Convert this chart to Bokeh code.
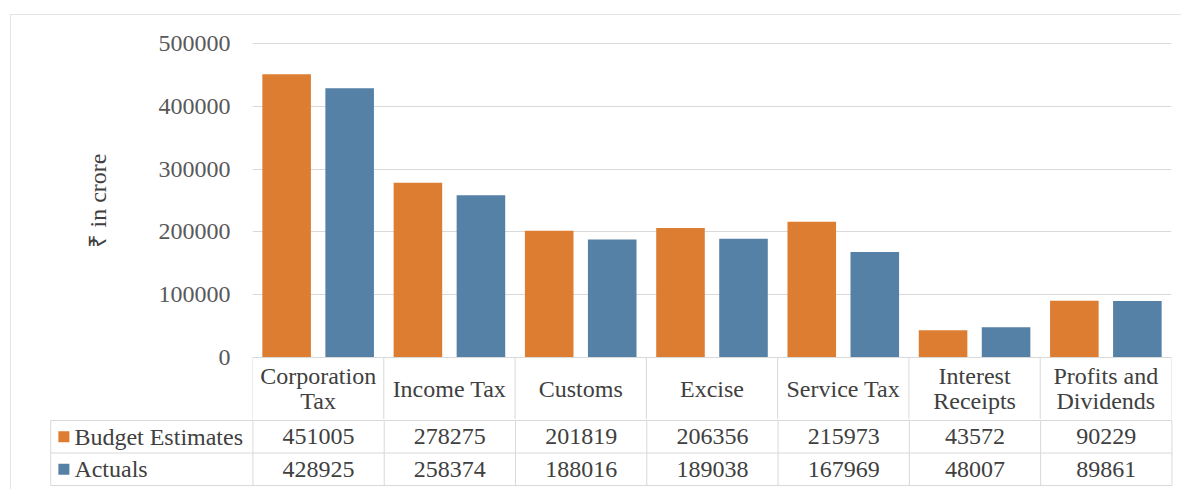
from bokeh.plotting import figure
from bokeh.models import Range1d, ColumnDataSource, FixedTicker, BasicTickFormatter, Title
from bokeh.layouts import column
from bokeh.embed import file_html
from bokeh.resources import INLINE
from bokeh.core.properties import value

# ---------------- data ----------------
categories = ["Corporation Tax", "Income Tax", "Customs", "Excise",
              "Service Tax", "Interest Receipts", "Profits and Dividends"]
header_labels = ["Corporation\nTax", "Income Tax", "Customs", "Excise",
                 "Service Tax", "Interest\nReceipts", "Profits and\nDividends"]
series_names = ["Budget Estimates", "Actuals"]
budget_estimates = [451005, 278275, 201819, 206356, 215973, 43572, 90229]
actuals = [428925, 258374, 188016, 189038, 167969, 48007, 89861]
y_ticks = [0, 100000, 200000, 300000, 400000, 500000]
y_axis_title = "₹ in crore"

# ---------------- style ----------------
ORANGE = "#DC7D31"
BLUE = "#5581A6"
SERIES_COLORS = [ORANGE, BLUE]
FONT = "Liberation Serif"
GRID = "#d9d9d9"
TXT = "#404040"
TICK_TXT = "#595959"
FS = "24px"

n = len(categories)
BAR_W = 0.37
OFFSET = 0.24

# pixel geometry of the top plot (value per pixel)
PX = 500000 / 314.0
TOP_PX = 327      # from frame top to the zero line
HEAD_PX = 62      # header row height

# ---------------- bar chart + table header ----------------
idx = list(range(n))
src = ColumnDataSource(dict(
    cat=categories,
    x_be=[i + 0.5 - OFFSET for i in idx],
    x_ac=[i + 0.5 + OFFSET for i in idx],
    be=budget_estimates, ac=actuals,
    xc=[i + 0.5 for i in idx], head=header_labels,
))

p = figure(x_range=Range1d(0, n),
           y_range=Range1d(-HEAD_PX * PX, TOP_PX * PX),
           width=1170, height=404,
           min_border_left=241, min_border_right=10,
           min_border_top=15, min_border_bottom=0,
           x_axis_location=None,
           toolbar_location=None, output_backend="svg",
           outline_line_color=None, frame_align=False)

p.vbar(x="x_be", top="be", width=BAR_W, source=src,
       fill_color=ORANGE, line_color=None)
p.vbar(x="x_ac", top="ac", width=BAR_W, source=src,
       fill_color=BLUE, line_color=None)

# header row of the data table
p.segment(x0=[0], y0=[0], x1=[n], y1=[0], line_color=GRID, line_width=1)
p.segment(x0=list(range(n + 1)), y0=[0] * (n + 1),
          x1=list(range(n + 1)), y1=[-HEAD_PX * PX - 10] * (n + 1),
          line_color=GRID, line_width=1)
p.text(x="xc", y=-HEAD_PX * PX / 2, text="head", source=src,
       text_align="center", text_baseline="middle",
       text_font=value(FONT), text_font_size=FS, text_color=TXT,
       text_line_height=0.95)

ax = p.yaxis[0]
ax.ticker = FixedTicker(ticks=y_ticks)
ax.formatter = BasicTickFormatter(use_scientific=False)
ax.major_label_text_font = FONT
ax.major_label_text_font_size = FS
ax.major_label_text_color = TICK_TXT
ax.major_label_standoff = 22
ax.axis_line_color = None
ax.major_tick_line_color = None
ax.minor_tick_line_color = None
ax.major_tick_out = 0
ax.major_tick_in = 0
ax.minor_tick_out = 0
ax.minor_tick_in = 0

# y-axis title, placed along the value span like the original
p.add_layout(Title(text=y_axis_title, align="left", offset=172, standoff=85,
                   vertical_align="top",
                   text_font=FONT, text_font_size=FS, text_font_style="normal",
                   text_color=TXT), "left")

p.ygrid.grid_line_color = GRID
p.ygrid.grid_line_width = 1
for g in p.xgrid:
    g.visible = False

# ---------------- data table rows ----------------
ROW1_BOT = -32.5
ROW2_BOT = -65
LABEL_LEFT = -1.54

t = figure(x_range=Range1d(-1.58, 7.012), y_range=Range1d(-66, 1),
           width=1170, height=70,
           min_border_left=34, min_border_right=8,
           min_border_top=0, min_border_bottom=3,
           x_axis_location=None, y_axis_location=None,
           toolbar_location=None, output_backend="svg",
           outline_line_color=None, frame_align=False)
t.grid.visible = False

hy = [0, ROW1_BOT, ROW2_BOT]
t.segment(x0=[LABEL_LEFT] * 3, y0=hy, x1=[n] * 3, y1=hy,
          line_color=GRID, line_width=1)
vx = [LABEL_LEFT] + list(range(n + 1))
t.segment(x0=vx, y0=[0] * len(vx), x1=vx, y1=[ROW2_BOT] * len(vx),
          line_color=GRID, line_width=1)

centers = [i + 0.5 for i in idx]
row_y = [ROW1_BOT / 2, (ROW1_BOT + ROW2_BOT) / 2]

for vals, yy in zip([budget_estimates, actuals], row_y):
    t.text(x=centers, y=[yy] * n, text=[str(v) for v in vals],
           text_align="center", text_baseline="middle",
           text_font=value(FONT), text_font_size=FS, text_color=TXT)

t.scatter(x=[-1.44, -1.44], y=row_y, marker="square", size=11,
          fill_color=SERIES_COLORS, line_color=None)
t.text(x=[-1.36, -1.36], y=row_y, text=series_names,
       text_align="left", text_baseline="middle",
       text_font=value(FONT), text_font_size=FS, text_color=TXT)

layout = column(p, t, spacing=0, margin=(14, 0, 0, 10),
                styles={"border-top": "1px solid #e4e4e4",
                        "border-left": "1px solid #e4e4e4"})

open("out.html", "w").write(file_html(layout, INLINE))
